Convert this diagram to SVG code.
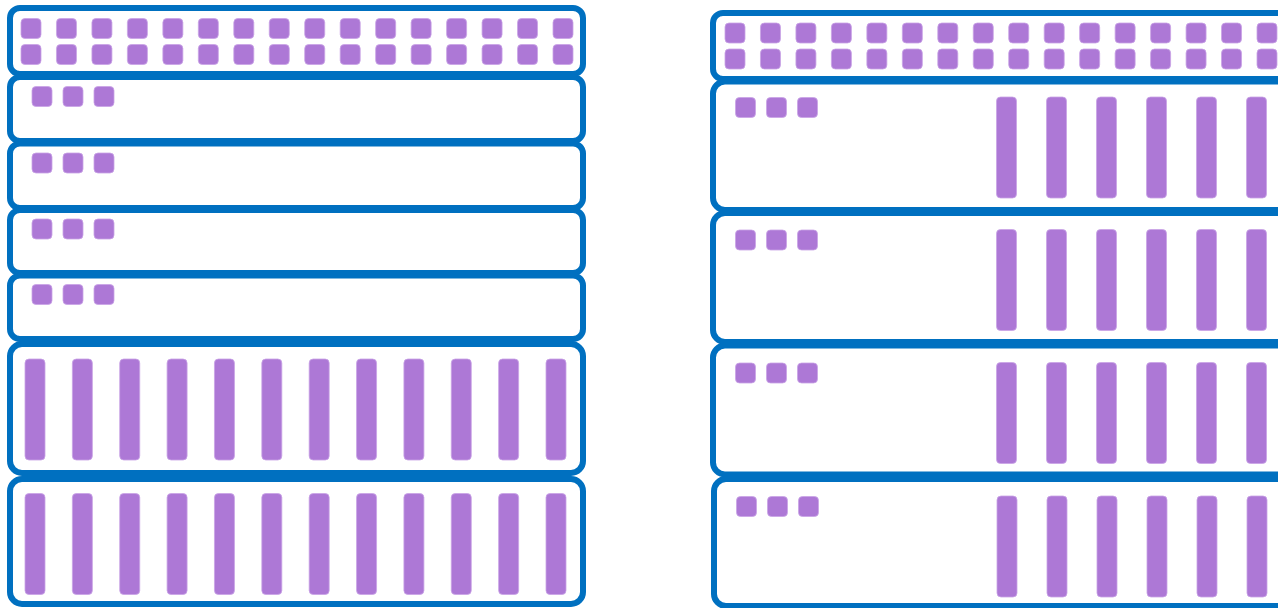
<svg xmlns="http://www.w3.org/2000/svg" xmlns:xlink="http://www.w3.org/1999/xlink" width="1278" height="608" viewBox="0 0 1278 608">
<style>
.box{fill:#fff;stroke:#0070C0;stroke-width:6}
.p{fill:#AD78D6;stroke:#C9A3E6;stroke-width:0.8}
</style>
<defs>
<rect id="sq" class="p" width="20" height="20" rx="4"/>
<rect id="bar" class="p" width="20" height="101" rx="4"/>
<g id="row16">
<use href="#sq" x="0"/><use href="#sq" x="35.47"/><use href="#sq" x="70.93"/><use href="#sq" x="106.4"/><use href="#sq" x="141.87"/><use href="#sq" x="177.33"/><use href="#sq" x="212.8"/><use href="#sq" x="248.27"/><use href="#sq" x="283.73"/><use href="#sq" x="319.2"/><use href="#sq" x="354.67"/><use href="#sq" x="390.13"/><use href="#sq" x="425.6"/><use href="#sq" x="461.07"/><use href="#sq" x="496.53"/><use href="#sq" x="532"/>
</g>
<g id="three"><use href="#sq" x="0"/><use href="#sq" x="31"/><use href="#sq" x="62"/></g>
<g id="bars12">
<use href="#bar" x="0"/><use href="#bar" x="47.36"/><use href="#bar" x="94.73"/><use href="#bar" x="142.09"/><use href="#bar" x="189.45"/><use href="#bar" x="236.82"/><use href="#bar" x="284.18"/><use href="#bar" x="331.55"/><use href="#bar" x="378.91"/><use href="#bar" x="426.27"/><use href="#bar" x="473.64"/><use href="#bar" x="521"/>
</g>
<g id="bars6">
<use href="#bar" x="0"/><use href="#bar" x="50"/><use href="#bar" x="100"/><use href="#bar" x="150"/><use href="#bar" x="200"/><use href="#bar" x="250"/>
</g>
</defs>
<rect width="1278" height="608" fill="#fff"/>
<g id="left">
<g id="L1"><rect class="box" x="10" y="8" width="573" height="66" rx="10"/><use href="#row16" x="21" y="18.5"/><use href="#row16" x="21" y="44.5"/></g>
<g id="L2"><rect class="box" x="10" y="77" width="573" height="64" rx="10"/><use href="#three" x="32" y="86.5"/></g>
<g id="L3"><rect class="box" x="10" y="143.5" width="573" height="64.5" rx="10"/><use href="#three" x="32" y="153"/></g>
<g id="L4"><rect class="box" x="10" y="210" width="573" height="63" rx="10"/><use href="#three" x="32" y="219"/></g>
<g id="L5"><rect class="box" x="10" y="275.5" width="573" height="63.5" rx="10"/><use href="#three" x="32" y="284.5"/></g>
<g id="L6"><rect class="box" x="10" y="344" width="573" height="129" rx="12"/><use href="#bars12" x="25" y="359"/></g>
<g id="L7"><rect class="box" x="10" y="479" width="573" height="125" rx="12"/><use href="#bars12" x="25" y="493.5"/></g>
</g>
<g id="right">
<g id="R1"><rect class="box" x="713" y="13" width="580" height="66" rx="10"/><use href="#row16" x="725" y="23"/><use href="#row16" x="725" y="49"/></g>
<g id="R2"><rect class="box" x="713" y="81.5" width="580" height="128.5" rx="12"/><use href="#three" x="735.5" y="97.5"/><use href="#bars6" x="996.5" y="97"/></g>
<g id="R3"><rect class="box" x="713" y="213" width="580" height="129" rx="12"/><use href="#three" x="735.5" y="230"/><use href="#bars6" x="996.5" y="229.5"/></g>
<g id="R4"><rect class="box" x="713" y="345.5" width="580" height="129" rx="12"/><use href="#three" x="735.5" y="363"/><use href="#bars6" x="996.5" y="362.5"/></g>
<g id="R5"><rect class="box" x="714" y="479" width="580" height="127" rx="12"/><use href="#three" x="736.5" y="496.5"/><use href="#bars6" x="997" y="496"/></g>
</g>
<g id="connectors"/>
</svg>
